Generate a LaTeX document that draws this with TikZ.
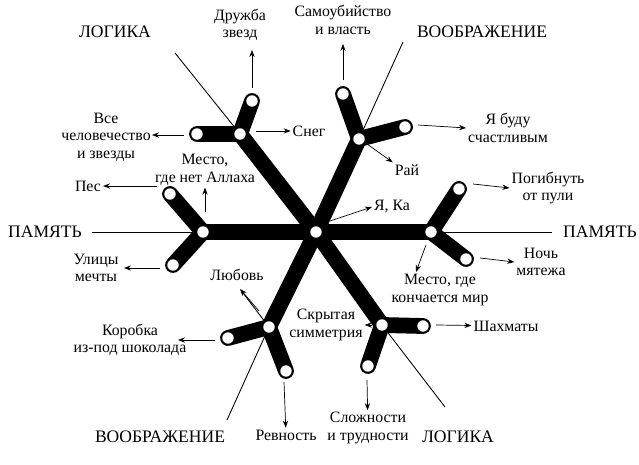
\documentclass[tikz,border=0pt]{standalone}
\usepackage{fontspec}
\setmainfont{Liberation Serif}
\usetikzlibrary{arrows.meta}
\begin{document}
\begin{tikzpicture}[x=0.02cm, y=-0.02cm, >={Stealth[length=4pt,width=3pt]},
    arm/.style={line width=9pt, line cap=round},
    hole/.style={circle, fill=white, inner sep=0pt, minimum size=6.5pt},
    axis/.style={line width=0.5pt},
    lbl/.style={font=\fontsize{9}{10}\selectfont, align=center, inner sep=1pt},
    big/.style={font=\fontsize{10}{12}\selectfont, inner sep=1pt}]
    \useasboundingbox (0,0) rectangle (639,465);

    % Centre and the six forks
    \coordinate (C) at (316,232);
    \coordinate (L) at (203,232);   \coordinate (L1) at (170,194); \coordinate (L2) at (173,265);
    \coordinate (R) at (431,232);   \coordinate (R1) at (459,189); \coordinate (R2) at (466,259);
    \coordinate (UL) at (240,134);  \coordinate (UL1) at (252,101); \coordinate (UL2) at (197,134);
    \coordinate (UR) at (359,139);  \coordinate (UR1) at (343,94);  \coordinate (UR2) at (405,127);
    \coordinate (DL) at (269,327);  \coordinate (DL1) at (228,338); \coordinate (DL2) at (286,371);
    \coordinate (DR) at (382,325);  \coordinate (DR1) at (423,326); \coordinate (DR2) at (368,366);

    % Thin axes
    \coordinate (aUL) at (175,53);  \coordinate (aUR) at (403,42);
    \coordinate (aL) at (92,232);   \coordinate (aR) at (552,232);
    \coordinate (aDL) at (227,420); \coordinate (aDR) at (445,407);
    \coordinate (aX) at (243,293);
    \draw[axis] (aUL) -- (UL);
    \draw[axis] (aUR) -- (UR);
    \draw[axis] (aL) -- (L);
    \draw[axis] (R) -- (aR);
    \draw[axis] (DL) -- (aDL);
    \draw[axis] (DR) -- (aDR);
    \draw[axis] (aX) -- (DL);

    % Arms
    \foreach \f in {L,R,UL,UR,DL,DR} {
        \draw[arm] (C) -- (\f);
        \draw[arm] (\f1) -- (\f) -- (\f2);
    }
    \foreach \p in {C,L,L1,L2,R,R1,R2,UL,UL1,UL2,UR,UR1,UR2,DL,DL1,DL2,DR,DR1,DR2}
        \node[hole] (h\p) at (\p) {};

    % Axis names
    \node[big] (logA) at (115,32) {ЛОГИКА};
    \node[big] (imA) at (482,32) {ВООБРАЖЕНИЕ};
    \node[big] (memA) at (45,232) {ПАМЯТЬ};
    \node[big] (memB) at (600,232) {ПАМЯТЬ};
    \node[big] (imB) at (160,437) {ВООБРАЖЕНИЕ};
    \node[big] (logB) at (458,437) {ЛОГИКА};

    % Labels
    \node[lbl] (t1) at (240,25) {Дружба\\звезд};
    \node[lbl] (t2) at (343,20) {Самоубийство\\и власть};
    \node[lbl] (t3) at (309,131) {Снег};
    \node[lbl] (t4) at (106,137) {Все\\человечество\\и звезды};
    \node[lbl] (t5) at (508,128) {Я буду\\счастливым};
    \node[lbl] (t6) at (407,170) {Рай};
    \node[lbl] (t7) at (205,170) {Место,\\где нет Аллаха};
    \node[lbl] (t8) at (88,186) {Пес};
    \node[lbl] (t9) at (392,207) {Я, Ка};
    \node[lbl] (t10) at (548,188) {Погибнуть\\от пули};
    \node[lbl] (t11) at (96,268) {Улицы\\мечты};
    \node[lbl] (t12) at (541,262) {Ночь\\мятежа};
    \node[lbl] (t13) at (440,290) {Место, где\\кончается мир};
    \node[lbl] (t14) at (237,275) {Любовь};
    \node[lbl] (t15) at (326,325) {Скрытая\\симметрия};
    \node[lbl] (t16) at (506,326) {Шахматы};
    \node[lbl] (t17) at (130,340) {Коробка\\из-под шоколада};
    \node[lbl] (t18) at (286,435) {Ревность};
    \node[lbl] (t19) at (368,428) {Сложности\\и трудности};

    % Arrows
    \coordinate (s1) at (252,88);  \coordinate (e1) at (252,50);
    \coordinate (s2) at (343,80);  \coordinate (e2) at (343,44);
    \coordinate (s3) at (256,131);
    \coordinate (s4) at (184,135); \coordinate (e4) at (152,135);
    \coordinate (s5) at (418,125);
    \coordinate (s6) at (367,144);
    \coordinate (s7) at (205,212);
    \coordinate (s8) at (157,186);
    \coordinate (s9) at (330,221);
    \coordinate (s10) at (473,184);
    \coordinate (s11) at (160,268); \coordinate (e11) at (124,268);
    \coordinate (s12) at (480,258);
    \coordinate (s13) at (426,245); \coordinate (e13) at (416,272);
    \coordinate (s14) at (259,311); \coordinate (e14) at (240,289);
    \coordinate (s15) at (372,325);
    \coordinate (s16) at (436,325);
    \coordinate (s17) at (215,340); \coordinate (e17) at (178,340);
    \coordinate (s18) at (284,382);
    \coordinate (s19) at (367,380);
    \draw[->] (s1) -- (e1);
    \draw[->] (s2) -- (e2);
    \draw[->] (s3) -- (t3);
    \draw[->] (s4) -- (e4);
    \draw[->] (s5) -- (t5.west);
    \draw[->] (s6) -- (t6.north west);
    \draw[->] (s7) -- (t7);
    \draw[->] (s8) -- (t8);
    \draw[->] (s9) -- (t9.west);
    \draw[->] (s10) -- (t10.west);
    \draw[->] (s11) -- (e11);
    \draw[->] (s12) -- (t12.west);
    \draw[->] (s13) -- (e13);
    \draw[->] (s14) -- (e14);
    \draw[->] (s15) -- (t15.east);
    \draw[->] (s16) -- (t16);
    \draw[->] (s17) -- (e17);
    \draw[->] (s18) -- (t18);
    \draw[->] (s19) -- (t19);
\end{tikzpicture}
\end{document}
